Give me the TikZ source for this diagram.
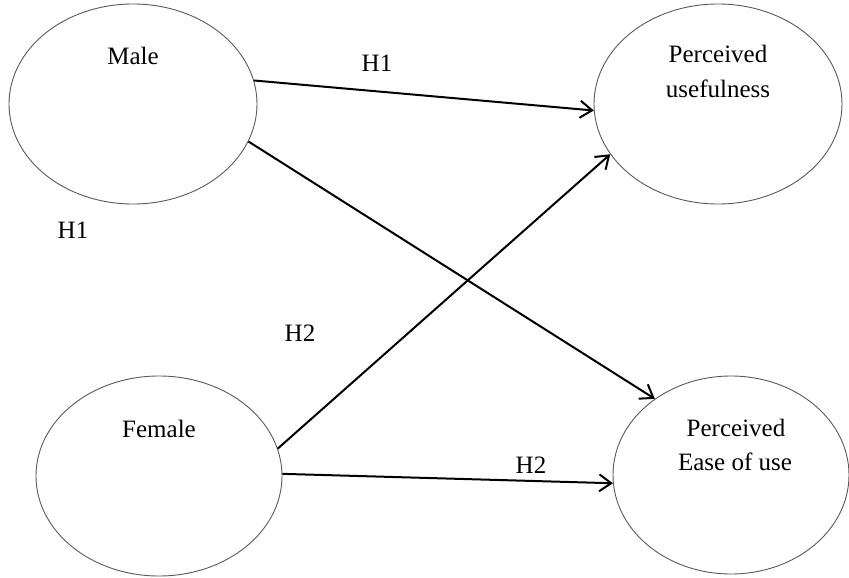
\documentclass[tikz,border=0pt]{standalone}
\usepackage{fontspec}
\setmainfont{Liberation Serif}
\usetikzlibrary{arrows.meta,shapes.geometric}
\begin{document}
\begin{tikzpicture}[x=1pt,y=-1pt,
  latent/.style={ellipse,draw=black!65,line width=0.9pt,inner sep=0pt},
  lbl/.style={anchor=base,inner sep=0pt,font=\fontsize{25}{34}\selectfont},
  hyp/.style={draw=black,line width=2pt,-{Straight Barb[length=12pt,width=17pt,line width=2pt]}}]
\useasboundingbox (0,0) rectangle (849,578);
% latent constructs
\node[latent,minimum width=248pt,minimum height=200pt] (male) at (133,104) {};
\node[latent,minimum width=248pt,minimum height=200pt] (pu) at (718,104) {};
\node[latent,minimum width=246pt,minimum height=200pt] (female) at (159,476) {};
\node[latent,minimum width=236pt,minimum height=198pt] (peu) at (731,475) {};
% texts
\node[lbl] (tmale) at (133,65) {Male};
\node[lbl] (tpu1) at (718,63) {Perceived};
\node[lbl] (tpu2) at (718,98) {usefulness};
\node[lbl] (tfemale) at (159,437) {Female};
\node[lbl] (tpeu1) at (736,436) {Perceived};
\node[lbl] (tpeu2) at (735,470) {Ease of use};
% hypothesis labels
\node[lbl] (h1a) at (377,72) {H1};
\node[lbl] (h1b) at (73,238) {H1};
\node[lbl] (h2a) at (300,341) {H2};
\node[lbl] (h2b) at (531,473) {H2};
% paths
\draw[hyp] (male.11) -- (pu.183.6);
\draw[hyp] (male.-18.9) -- (peu.135);
\draw[hyp] (female.13.3) -- (pu.205.9);
\draw[hyp] (female.1.4) -- (peu.184.8);
\end{tikzpicture}
\end{document}
